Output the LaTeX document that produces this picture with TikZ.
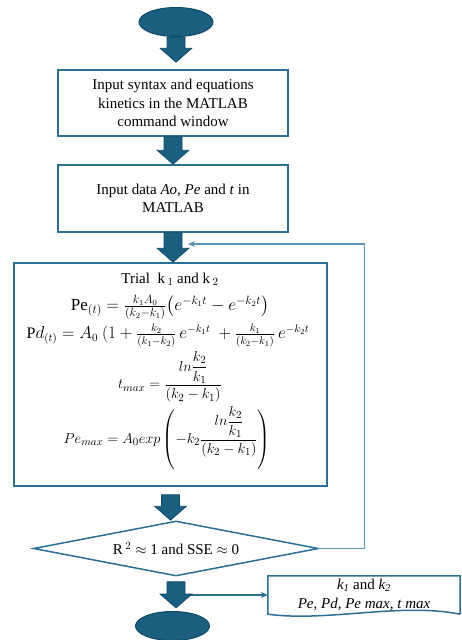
\documentclass[tikz,border=0pt]{standalone}
\usepackage{amsmath}
\usepackage{fontspec}
\setmainfont{Liberation Serif}
\usetikzlibrary{shapes.geometric,arrows.meta,calc}

\definecolor{flowdark}{HTML}{1A5E80}
\definecolor{flowedge}{HTML}{0F4A66}
\definecolor{flowline}{HTML}{2B6F96}
\definecolor{flowloop}{HTML}{5B95B8}

% fat arrow from node #3 down to node #4, gaps #1 (top) and #2 (tip)
\newcommand{\fatarrow}[4]{%
  \filldraw[fill=flowdark,draw=flowedge,line width=0.6pt] let \p1=(#3.south), \p2=(#4.north) in
    (\x1-9pt,\y1-#1) -- (\x1+9pt,\y1-#1) -- (\x1+9pt,\y2+14pt+#2) -- (\x1+16pt,\y2+14pt+#2)
    -- (\x1,\y2+#2) -- (\x1-16pt,\y2+14pt+#2) -- (\x1-9pt,\y2+14pt+#2) -- cycle;}

\begin{document}
\begin{tikzpicture}[x=1pt,y=-1pt,
  every node/.style={font=\fontsize{15}{18.5}\selectfont},
  terminal/.style={ellipse,fill=flowdark,draw=flowedge,line width=1pt,
    minimum width=74pt,minimum height=29pt,inner sep=0pt},
  stepbox/.style={draw=flowline,line width=1.5pt,fill=white,align=center,inner sep=0pt},
  decision/.style={diamond,draw=flowline,line width=1.5pt,fill=white,aspect=5.2,
    minimum width=285pt,minimum height=55pt,inner sep=0pt},
  eqline/.style={inner sep=0pt,font=\fontsize{15}{18}\selectfont}]
\useasboundingbox (0,0) rectangle (461,640);

% loop back and output line (under the fat arrows)
\coordinate (loopin) at (188,244);
\coordinate (split) at (172,595);

\node[terminal] (start) at (176,22) {};
\node[stepbox,minimum width=230pt,minimum height=66pt] (syntax) at (173,103)
  {Input syntax and equations\\kinetics in the MATLAB\\command window};
\node[stepbox,minimum width=230pt,minimum height=67pt] (data) at (173,198.5)
  {Input data \textit{Ao, Pe} and \textit{t} in\\MATLAB};
\node[stepbox,minimum width=313pt,minimum height=223pt] (trial) at (170.5,374.5) {};
\node[decision] (check) at (176,548.5) {R\,$^2\approx$ 1 and SSE $\approx$ 0};
\node[terminal] (stop) at (172.5,626) {};
\node[inner sep=0pt,minimum width=192pt,minimum height=38pt,align=center] (result) at (364,595)
  {\textit{k\textsubscript{1}} and \textit{k\textsubscript{2}}\\\textit{Pe, Pd, Pe max, t max}};

% equations in the trial box
\node[eqline] (trialtxt) at (170,279.5) {Trial\ \ k\,$_1$ and k\,$_2$};
\node[eqline,font=\fontsize{17}{20}\selectfont] (peeq) at (170,307.5)
  {$\mathrm{Pe}_{(t)} = \frac{k_1A_0}{(k_2-k_1)}\bigl(e^{-k_1t}-e^{-k_2t}\bigr)$};
\node[eqline,font=\fontsize{16}{19}\selectfont] (pdeq) at (168,336)
  {$\mathrm{P}d_{(t)} = A_0\ (1+\frac{k_2}{(k_1-k_2)}\,e^{-k_1t}\ +\frac{k_1}{(k_2-k_1)}\,e^{-k_2t}$};
\node[eqline,font=\fontsize{15.5}{19}\selectfont] (tmaxeq) at (170,377)
  {$\displaystyle t_{max} = \frac{ln\dfrac{k_2}{k_1}}{(k_2-k_1)}$};
\node[eqline] (pemaxeq) at (167,440)
  {$\displaystyle Pe_{max} = A_0exp\left(\vrule height 27pt depth 27pt width 0pt
   -k_2\smash{\frac{ln\dfrac{k_2}{k_1}}{(k_2-k_1)}}\right)$};

% output box with wavy bottom
\draw[flowline,line width=1.5pt] (result.south east) -- (result.north east)
  -- (result.north west) -- (result.south west)
  .. controls +(60,8) and +(-60,-12) .. (result.south east);

% connectors
\draw[flowloop,line width=1.2pt,-{Stealth[length=7pt,width=6pt]}]
  (check.east) -- ++(45,0) |- (loopin);
\draw[flowline,line width=1.5pt,-{Stealth[length=7pt,width=6pt]}] (split) -- (result.west);

\fatarrow{0pt}{7pt}{start}{syntax}
\fatarrow{0pt}{0pt}{syntax}{data}
\fatarrow{0pt}{0pt}{data}{trial}
\fatarrow{8pt}{0pt}{trial}{check}
\fatarrow{5pt}{3pt}{check}{stop}
\end{tikzpicture}
\end{document}
